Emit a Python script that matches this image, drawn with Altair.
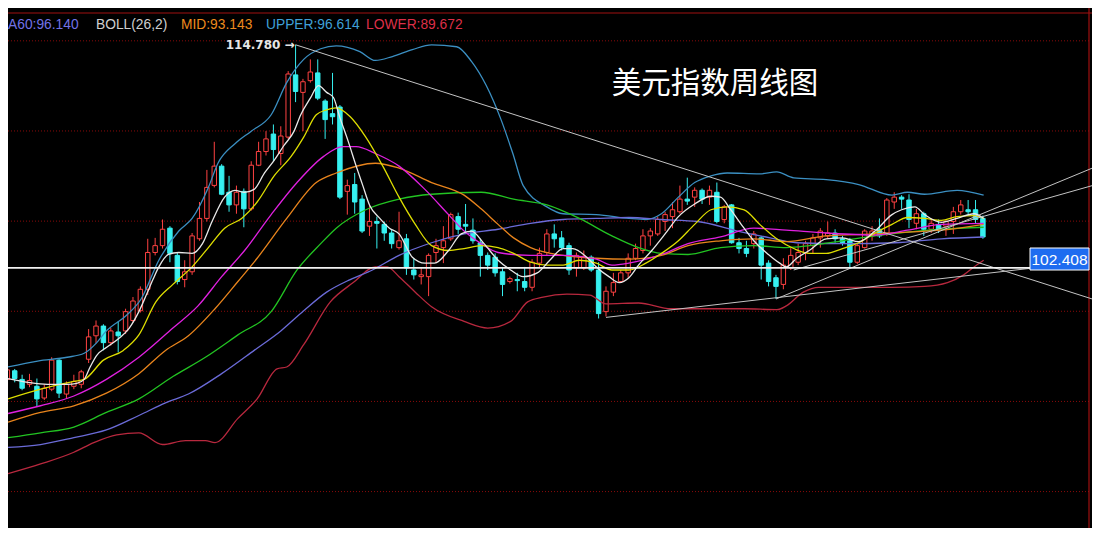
import altair as alt
import pandas as pd

# ---------------- weekly candles ----------------
OPEN = [96.22, 96.70, 96.22, 95.95, 95.84, 95.19, 95.68, 97.29, 95.41, 95.84,
        95.95, 97.34, 98.64, 99.18, 98.26, 98.85, 98.91, 99.49, 100.03, 101.22,
        103.26, 103.64, 104.61, 103.10, 101.76, 102.19, 104.02, 105.15, 106.98, 108.05,
        106.60, 105.90, 106.65, 105.68, 108.10, 108.86, 109.83, 108.75, 109.66, 113.11,
        112.14, 112.79, 113.22, 111.66, 110.96, 111.33, 106.65, 107.03, 106.22, 104.72,
        104.98, 104.82, 104.34, 103.53, 104.02, 102.29, 101.92, 101.92, 103.26, 103.53,
        104.02, 105.25, 104.82, 104.50, 103.80, 103.10, 103.00, 102.19, 101.65, 101.76,
        101.65, 101.33, 102.67, 103.26, 104.29, 104.07, 103.64, 102.40, 102.40, 103.00,
        102.29, 99.98, 101.06, 101.65, 102.13, 102.94, 103.37, 104.18, 104.29, 104.98,
        105.25, 105.52, 106.22, 106.33, 106.71, 106.33, 106.60, 105.09, 105.90, 103.80,
        103.48, 103.75, 104.07, 102.67, 101.86, 101.49, 102.40, 102.72, 103.26, 103.64,
        104.07, 104.18, 104.34, 104.02, 103.91, 102.72, 103.53, 104.18, 104.55, 104.34,
        106.06, 106.33, 106.17, 104.88, 105.41, 104.55, 104.82, 104.72, 104.98, 105.52,
        105.63, 105.63, 105.15]
HIGH = [96.86, 96.80, 96.48, 96.53, 96.27, 95.95, 97.45, 97.34, 96.11, 96.48,
        96.75, 99.01, 99.49, 99.28, 99.07, 99.44, 100.14, 100.79, 101.38, 104.02,
        104.07, 105.09, 104.72, 103.26, 102.83, 104.34, 106.06, 107.84, 109.40, 108.16,
        107.51, 106.97, 106.81, 108.32, 109.40, 109.99, 110.36, 110.26, 113.32, 114.78,
        112.89, 113.97, 113.97, 111.76, 113.22, 111.44, 107.30, 107.67, 106.44, 105.90,
        105.25, 104.98, 104.55, 105.52, 104.29, 102.94, 102.40, 103.21, 104.02, 104.72,
        105.47, 105.47, 105.95, 105.15, 104.02, 103.26, 103.21, 102.46, 101.92, 102.13,
        102.46, 102.89, 103.53, 104.55, 104.82, 104.45, 103.80, 103.26, 103.37, 103.10,
        102.72, 101.38, 102.13, 102.29, 103.21, 103.75, 104.55, 104.61, 105.25, 105.52,
        106.06, 106.97, 107.41, 106.87, 106.81, 106.97, 107.14, 105.90, 105.95, 104.07,
        103.91, 104.45, 104.18, 102.83, 102.02, 102.94, 103.50, 103.75, 103.91, 104.29,
        104.61, 104.98, 104.55, 104.18, 104.07, 103.75, 104.55, 104.72, 105.15, 106.28,
        106.60, 106.44, 106.49, 105.68, 105.52, 105.15, 105.09, 105.09, 105.79, 106.17,
        106.17, 106.17, 105.31]
LOW = [96.00, 96.06, 95.62, 95.79, 94.71, 95.08, 95.57, 95.19, 95.19, 95.68,
       95.73, 97.13, 98.21, 97.83, 98.10, 97.72, 98.74, 99.39, 99.93, 100.90,
       103.10, 103.48, 102.72, 101.49, 101.33, 102.02, 103.91, 104.98, 106.87, 106.44,
       105.52, 105.41, 104.66, 105.58, 108.05, 108.64, 108.32, 108.10, 109.56, 111.60,
       109.99, 112.68, 111.71, 109.56, 110.36, 106.22, 105.36, 105.41, 104.34, 104.18,
       103.48, 103.91, 103.48, 103.42, 102.02, 101.76, 101.49, 100.84, 102.67, 102.67,
       103.91, 104.29, 104.29, 103.75, 101.92, 102.29, 101.92, 100.84, 101.54, 101.11,
       101.11, 101.11, 102.40, 103.10, 103.53, 103.37, 102.02, 101.92, 102.29, 102.19,
       99.60, 99.71, 100.84, 101.59, 101.86, 102.83, 103.21, 103.64, 104.18, 104.45,
       104.61, 105.41, 105.90, 105.79, 105.95, 105.90, 104.88, 104.88, 103.75, 103.21,
       103.00, 103.48, 101.76, 101.38, 100.68, 101.22, 102.29, 102.56, 102.83, 103.21,
       103.53, 104.02, 103.80, 103.64, 102.40, 102.62, 103.48, 103.91, 104.07, 104.18,
       105.68, 105.68, 104.61, 104.55, 104.18, 104.34, 104.34, 104.18, 104.29, 105.36,
       105.36, 104.88, 104.02]
CLOSE = [96.75, 96.27, 95.73, 96.16, 95.14, 95.73, 97.29, 95.46, 95.95, 96.11,
         96.64, 98.58, 99.18, 98.26, 98.91, 98.64, 99.98, 100.57, 101.22, 103.26,
         103.64, 104.55, 103.21, 101.65, 102.19, 104.18, 105.15, 106.87, 108.05, 106.49,
         105.90, 106.60, 105.68, 108.10, 108.86, 109.56, 108.97, 109.72, 113.16, 112.19,
         112.73, 113.27, 111.82, 110.63, 110.79, 106.33, 106.97, 106.06, 104.45, 104.98,
         104.88, 104.34, 103.75, 103.91, 102.40, 102.02, 102.02, 103.10, 103.64, 103.91,
         105.36, 104.55, 104.72, 103.91, 103.10, 102.56, 102.13, 101.49, 101.81, 101.70,
         101.33, 102.72, 103.21, 104.29, 104.02, 103.53, 102.29, 103.10, 103.05, 102.29,
         99.87, 101.11, 101.59, 102.13, 102.94, 103.48, 104.18, 104.45, 105.09, 105.36,
         105.63, 106.22, 106.11, 106.71, 106.22, 106.71, 104.98, 105.79, 103.80, 103.48,
         103.21, 104.29, 102.56, 101.65, 101.38, 102.56, 103.10, 103.26, 103.75, 104.07,
         104.45, 104.34, 104.02, 103.80, 102.72, 103.64, 104.45, 104.45, 104.18, 106.17,
         106.33, 106.22, 105.09, 105.41, 104.55, 104.88, 104.55, 104.98, 105.52, 105.90,
         105.52, 105.09, 104.12]

# ---------------- indicator lines ----------------
UPPER_I = [0.1, 4.1, 8.1, 10.4, 12.1, 13.4, 16.1, 18.1, 20.5, 23.2, 25.0, 27.2, 28.5, 30.8, 33.0,
           35.7, 37.8, 40.1, 42.4, 44.5, 47.7, 49.8, 52.1, 54.8, 57.4, 60.8, 62.8, 64.8, 66.8, 68.4,
           69.8, 73.0, 75.2, 79.7, 84.1, 86.4, 88.5, 90.8, 93.0, 95.2, 97.4, 101.8, 104.1, 106.4,
           110.8, 115.2, 119.7, 121.8, 124.1, 128.5, 132.1]
UPPER_V = [96.91, 97.24, 97.45, 97.67, 98.26, 98.91, 99.77, 100.68, 102.83, 104.45, 105.15, 106.87,
           108.21, 109.29, 109.99, 110.90, 112.68, 113.97, 114.56, 114.72, 114.40, 113.91, 114.13,
           114.51, 114.78, 114.67, 113.86, 112.52, 110.63, 108.75, 106.97, 105.79, 105.41, 105.36,
           105.15, 105.09, 105.41, 106.33, 107.14, 107.51, 107.67, 107.62, 107.73, 107.40, 107.30,
           107.03, 106.44, 106.60, 106.49, 106.71, 106.44]
LOWER_I = [0.1, 4.5, 9.0, 11.7, 14.8, 17.8, 21.0, 24.1, 26.8, 28.1, 31.2, 33.8, 36.5, 37.8, 40.1,
           43.7, 46.8, 49.8, 51.4, 53.0, 55.2, 57.4, 61.8, 65.0, 68.1, 70.4, 72.5, 75.7, 78.8, 81.0,
           85.4, 89.8, 94.4, 99.7, 104.1, 105.4, 107.7, 109.8, 113.0, 119.7, 124.1, 127.2, 129.4,
           130.8, 132.1]
LOWER_V = [90.99, 91.53, 92.18, 92.72, 93.15, 93.26, 92.61, 92.83, 92.83, 92.72, 94.06, 95.14,
           96.81, 96.91, 98.15, 100.52, 101.59, 102.46, 102.46, 101.92, 101.06, 100.25, 99.44,
           99.07, 99.44, 100.52, 100.79, 100.95, 100.90, 100.41, 100.46, 100.14, 100.14, 100.14,
           100.09, 100.30, 101.06, 101.33, 101.33, 101.33, 101.38, 101.59, 102.02, 102.46, 102.83]
MA60_I = [0.1, 4.5, 9.0, 13.4, 17.8, 21.4, 24.5, 29.0, 33.4, 37.0, 40.1, 43.2, 46.4, 49.4, 53.0,
          57.4, 61.8, 66.4, 70.8, 75.2, 79.7, 84.1, 88.5, 93.4, 98.8, 103.2, 106.8, 113.4, 120.1,
          126.4, 132.1]
MA60_V = [92.45, 92.61, 92.99, 93.42, 94.22, 94.92, 95.41, 96.54, 97.83, 98.91, 100.03, 101.06,
          101.76, 102.29, 103.10, 103.80, 104.29, 104.55, 104.88, 105.09, 105.15, 105.20, 105.09,
          104.98, 104.45, 104.07, 103.80, 103.75, 103.80, 104.02, 104.12]
MA40_I = [0.1, 4.5, 9.0, 13.4, 17.8, 22.4, 26.8, 31.2, 35.7, 39.2, 42.4, 44.5, 48.5, 53.0, 57.4,
          64.1, 68.5, 73.0, 77.4, 81.8, 85.4, 88.5, 92.1, 96.5, 101.0, 105.4, 108.5, 113.0, 117.4,
          121.8, 126.4, 132.1]
MA40_V = [92.99, 93.26, 93.58, 94.39, 95.14, 96.38, 97.45, 98.69, 99.98, 102.29, 103.75, 104.61,
          105.63, 106.22, 106.49, 106.60, 106.22, 105.90, 105.15, 104.18, 103.53, 103.21, 103.15,
          103.53, 103.64, 103.53, 103.64, 103.91, 104.18, 104.39, 104.55, 104.66]
MID_I = [0.1, 4.5, 9.0, 13.4, 17.8, 21.4, 24.5, 28.1, 31.2, 33.8, 37.8, 41.8, 44.5, 49.8, 53.0,
         57.4, 61.8, 64.1, 66.4, 68.5, 70.8, 75.2, 79.7, 84.1, 88.5, 92.1, 96.5, 101.0, 105.4,
         110.8, 117.4, 121.8, 126.4, 132.1]
MID_V = [93.85, 94.39, 94.76, 95.46, 96.54, 97.83, 98.64, 100.14, 101.65, 102.94, 105.15, 107.14,
         107.67, 108.21, 107.94, 107.14, 106.44, 105.68, 104.82, 104.07, 103.53, 103.10, 102.94,
         102.89, 103.10, 103.64, 103.91, 104.02, 103.86, 104.18, 104.29, 104.39, 104.50, 104.82]
MA20_I = [0.1, 4.5, 9.0, 13.4, 17.8, 22.4, 25.8, 29.0, 32.1, 35.7, 39.2, 42.8, 45.4, 47.2, 49.8,
          53.0, 56.5, 59.7, 61.8, 64.1, 66.4, 70.8, 75.2, 79.7, 81.8, 84.1, 88.5, 92.1, 96.5,
          101.0, 105.4, 110.8, 117.4, 121.8, 126.4, 132.1]
MA20_V = [94.33, 94.76, 95.30, 96.22, 97.45, 99.07, 100.30, 101.92, 103.37, 105.36, 107.14, 108.59,
          109.13, 109.13, 108.75, 108.05, 106.76, 105.36, 104.45, 103.75, 103.26, 103.10, 103.10,
          102.89, 102.56, 102.67, 103.15, 103.75, 104.12, 104.61, 104.50, 104.34, 104.23, 104.50,
          104.82, 104.88]
MA10_I = [0.1, 4.5, 9.0, 10.4, 13.0, 15.7, 17.8, 20.1, 22.4, 25.0, 27.2, 29.4, 31.7, 33.8, 36.1,
          38.4, 40.1, 41.8, 43.2, 44.5, 46.4, 48.5, 50.8, 53.0, 55.2, 57.4, 59.7, 61.8, 64.1, 66.4,
          68.5, 70.8, 73.0, 75.2, 77.4, 79.7, 81.8, 84.1, 86.4, 88.5, 90.8, 93.0, 95.2, 97.4, 99.7,
          101.8, 104.1, 106.4, 108.5, 110.8, 113.0, 115.2, 117.4, 119.7, 121.8, 124.1, 126.4,
          128.5, 130.8, 132.1]
MA10_V = [95.14, 95.68, 96.11, 96.22, 97.29, 97.83, 98.69, 100.52, 101.49, 102.46, 103.53, 104.61,
          105.15, 106.06, 107.51, 108.59, 109.66, 110.90, 111.17, 111.28, 110.79, 109.66, 108.05,
          106.33, 104.82, 103.64, 103.37, 103.48, 103.64, 103.53, 103.21, 102.72, 102.56, 102.56,
          102.83, 102.67, 102.29, 102.29, 102.67, 103.21, 103.91, 104.82, 105.63, 105.79, 105.63,
          104.82, 104.02, 103.48, 103.21, 103.21, 103.48, 103.80, 104.34, 104.82, 105.20, 105.15,
          105.04, 105.25, 105.31, 105.15]
MA5_I = [0.1, 2.8, 5.4, 8.1, 9.4, 10.4, 11.2, 12.1, 13.4, 15.2, 16.5, 17.8, 18.8, 19.7, 20.5,
         21.8, 23.2, 25.0, 26.4, 27.7, 29.4, 30.8, 32.1, 33.4, 34.8, 36.1, 37.4, 38.8, 39.7, 41.0,
         42.1, 43.2, 44.1, 45.0, 46.1, 47.2, 48.1, 49.0, 50.4, 51.7, 53.0, 54.8, 56.5, 57.8, 59.7,
         61.4, 62.8, 64.5, 66.4, 68.1, 69.8, 71.7, 73.4, 75.2, 76.5, 78.4, 79.7, 81.4, 82.8, 84.1,
         85.4, 87.2, 89.0, 90.8, 93.0, 95.2, 96.5, 97.8, 99.2, 101.0, 102.8, 104.5, 105.4, 106.8,
         108.5, 110.8, 113.0, 115.2, 117.4, 119.7, 121.0, 122.8, 124.1, 126.4, 128.5, 130.8, 132.1]
MA5_V = [96.27, 96.06, 95.95, 95.95, 96.00, 96.22, 96.91, 97.56, 97.99, 98.53, 99.07, 99.98,
         100.90, 101.76, 102.46, 103.15, 103.26, 103.21, 103.75, 104.98, 106.33, 106.71, 106.60,
         106.76, 107.67, 108.37, 109.18, 109.99, 110.90, 111.82, 112.52, 112.14, 111.87, 110.74,
         109.45, 108.05, 106.97, 105.90, 105.15, 104.61, 104.29, 103.00, 102.67, 102.67, 103.37,
         104.29, 104.45, 103.75, 102.83, 102.29, 101.92, 102.13, 102.83, 103.48, 103.48, 103.00,
         102.46, 101.92, 101.59, 101.86, 102.56, 103.37, 104.29, 105.25, 105.95, 106.38, 106.33,
         105.68, 104.88, 103.91, 103.21, 102.67, 102.46, 102.94, 103.37, 104.02, 104.07, 103.86,
         104.45, 105.36, 105.63, 105.79, 105.36, 104.93, 105.15, 105.41, 105.15]

# ---------------- drawn trend lines ----------------
TREND_I0 = [39.0, 81.0, 104.0, 106.4]
TREND_P0 = [114.78, 99.66, 100.68, 102.29]
TREND_I1 = [146.8, 138.8, 146.8, 146.8]
TREND_P1 = [100.68, 102.40, 107.94, 106.97]
HLINE_PRICE = 102.408
HLINE_END_I = 138.8

GRID_LEVELS = [90, 95, 100, 105, 110, 115]

HEADER_TEXT = ["A60:96.140", "BOLL(26,2)", "MID:93.143", "UPPER:96.614", "LOWER:89.672"]
HEADER_COLOR = ["#7272e6", "#cfcfcf", "#ec8a1e", "#3fa0d8", "#dc2f48"]
HEADER_X = [0, 88, 173, 258, 358]

TITLE = "美元指数周线图"
PEAK_LABEL = "114.780 →"
PEAK_I, PEAK_P = 39, 114.78
LAST_LABEL = "102.408"

# ---------------- layout (page has an 8px margin: plot is 1084x520) ----------------
W, H = 1084, 520
XS = alt.Scale(domain=[0.09, 146.76], nice=False, zero=False)
YS = alt.Scale(domain=[87.98, 116.82], nice=False, zero=False)
RED = "#ff4242"
CYAN = "#36f0f0"

for a, b in [(OPEN, HIGH), (OPEN, LOW), (OPEN, CLOSE), (UPPER_I, UPPER_V), (LOWER_I, LOWER_V),
             (MA60_I, MA60_V), (MA40_I, MA40_V), (MID_I, MID_V), (MA20_I, MA20_V),
             (MA10_I, MA10_V), (MA5_I, MA5_V)]:
    assert len(a) == len(b)

n = len(OPEN)
candles = pd.DataFrame({"i": list(range(n)), "o": OPEN, "h": HIGH, "l": LOW, "c": CLOSE})
candles["up"] = candles["c"] >= candles["o"]
candles["x1"] = candles["i"] - 0.3
candles["x2"] = candles["i"] + 0.3

layers = []
one = pd.DataFrame({"k": [0]})

# grid
grid_df = pd.DataFrame({"p": GRID_LEVELS})
layers.append(alt.Chart(grid_df).mark_rule(color="#8a0a0a", strokeDash=[1, 2], strokeWidth=1).encode(
    y=alt.Y("p:Q", scale=YS, axis=None), x=alt.value(0), x2=alt.value(1081)))

# frame lines
layers.append(alt.Chart(one).mark_rule(color="#a01010", strokeWidth=1.2).encode(
    x=alt.value(0), x2=alt.value(W), y=alt.value(5)))
layers.append(alt.Chart(one).mark_rule(color="#a01010", strokeWidth=1.2).encode(
    x=alt.value(1081), y=alt.value(0), y2=alt.value(H)))

# candles
layers.append(alt.Chart(candles).mark_rule(strokeWidth=1, clip=True).encode(
    x=alt.X("i:Q", scale=XS, axis=None),
    y=alt.Y("l:Q", scale=YS, axis=None),
    y2="h:Q",
    color=alt.condition("datum.up", alt.value(RED), alt.value(CYAN)),
))
layers.append(alt.Chart(candles).mark_rect(strokeWidth=1, clip=True).encode(
    x=alt.X("x1:Q", scale=XS, axis=None),
    x2="x2:Q",
    y=alt.Y("o:Q", scale=YS, axis=None),
    y2="c:Q",
    fill=alt.condition("datum.up", alt.value("#000000"), alt.value(CYAN)),
    stroke=alt.condition("datum.up", alt.value(RED), alt.value(CYAN)),
))

# indicator lines (bottom to top)
series = [
    ("UPPER", UPPER_I, UPPER_V, "#3b8fc2"),
    ("LOWER", LOWER_I, LOWER_V, "#b8283e"),
    ("MA60", MA60_I, MA60_V, "#6b6bd8"),
    ("MA40", MA40_I, MA40_V, "#22c422"),
    ("MID", MID_I, MID_V, "#e8841c"),
    ("MA20", MA20_I, MA20_V, "#e020e0"),
    ("MA10", MA10_I, MA10_V, "#dede00"),
    ("MA5", MA5_I, MA5_V, "#e8e8e8"),
]
for name, xi, yv, col in series:
    d = pd.DataFrame({"i": xi, "v": yv})
    layers.append(alt.Chart(d).mark_line(color=col, strokeWidth=1.3, interpolate="monotone", clip=True).encode(
        x=alt.X("i:Q", scale=XS, axis=None),
        y=alt.Y("v:Q", scale=YS, axis=None),
    ))

# trend lines
trend = pd.DataFrame({"i0": TREND_I0, "p0": TREND_P0, "i1": TREND_I1, "p1": TREND_P1})
layers.append(alt.Chart(trend).mark_rule(color="#c4c4c4", strokeWidth=1, clip=True).encode(
    x=alt.X("i0:Q", scale=XS, axis=None), x2="i1:Q",
    y=alt.Y("p0:Q", scale=YS, axis=None), y2="p1:Q"))
hl = pd.DataFrame({"i0": [0.09], "i1": [HLINE_END_I], "p": [HLINE_PRICE]})
layers.append(alt.Chart(hl).mark_rule(color="#f2f2f2", strokeWidth=1.6, clip=True).encode(
    x=alt.X("i0:Q", scale=XS, axis=None), x2="i1:Q",
    y=alt.Y("p:Q", scale=YS, axis=None)))

# header texts
for t, c, px in zip(HEADER_TEXT, HEADER_COLOR, HEADER_X):
    layers.append(alt.Chart(one).mark_text(text=t, color=c, font="Liberation Sans", fontSize=13.8,
                                           align="left", baseline="middle").encode(
        x=alt.value(px), y=alt.value(16.5)))

# title
layers.append(alt.Chart(one).mark_text(text=TITLE, color="#ffffff", font="Noto Sans CJK SC",
                                       fontSize=29.5, align="center", baseline="middle").encode(
    x=alt.value(707), y=alt.value(75.5)))

# peak label
peak = pd.DataFrame({"i": [PEAK_I], "p": [PEAK_P], "t": [PEAK_LABEL]})
layers.append(alt.Chart(peak).mark_text(color="#e6e6e6", font="DejaVu Sans", fontSize=12,
                                        fontWeight="bold", align="right", baseline="middle", dx=-1).encode(
    x=alt.X("i:Q", scale=XS, axis=None), y=alt.Y("p:Q", scale=YS, axis=None), text="t:N"))

# last price box
layers.append(alt.Chart(one).mark_rect(fill="#1e6cf0", stroke="#ffffff", strokeWidth=1).encode(
    x=alt.value(1022), x2=alt.value(1081), y=alt.value(240), y2=alt.value(262)))
layers.append(alt.Chart(one).mark_text(text=LAST_LABEL, color="#ffffff", font="Liberation Sans",
                                       fontSize=15.5, align="center", baseline="middle").encode(
    x=alt.value(1051.5), y=alt.value(251.5)))

chart = alt.layer(*layers).properties(
    width=W, height=H, background="#000000", padding=0,
    autosize=alt.AutoSizeParams(type="none"),
).configure_view(stroke=None)

chart.save("out.html", embed_options={"renderer": "svg", "actions": False})
